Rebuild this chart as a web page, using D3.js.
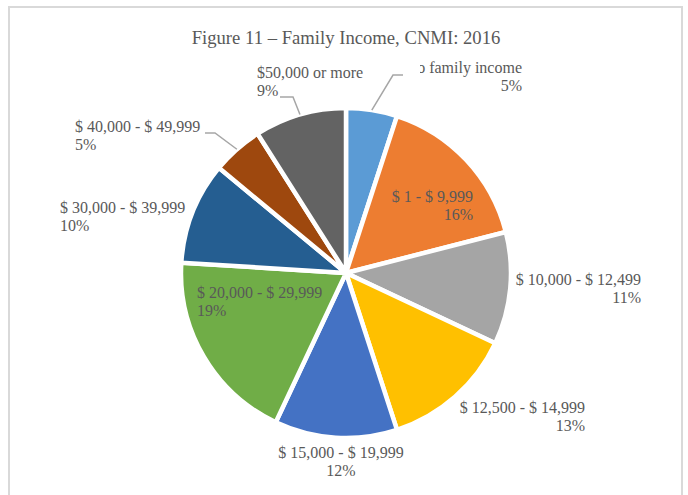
<!DOCTYPE html>
<html>
<head>
<meta charset="utf-8">
<script src="https://cdn.jsdelivr.net/npm/d3@7"></script>
<style>
  body { margin: 0; background: #fff; }
  text { font-family: 'Liberation Serif', 'Times New Roman', serif; fill: #595959; }
</style>
</head>
<body>
<div id="chart"></div>
<script>
const categories = [
  'No family income',
  '$ 1 - $ 9,999',
  '$ 10,000 - $ 12,499',
  '$ 12,500 - $ 14,999',
  '$ 15,000 - $ 19,999',
  '$ 20,000 - $ 29,999',
  '$ 30,000 - $ 39,999',
  '$ 40,000 - $ 49,999',
  '$50,000 or more'
];
const shares = [5, 16, 11, 13, 12, 19, 10, 5, 9];
const colors = ['#5B9BD5', '#ED7D31', '#A5A5A5', '#FFC000', '#4472C4', '#70AD47', '#255E91', '#9E480E', '#636363'];

const width = 688;
const height = 495;
const cx = 346;
const cy = 273;
const radius = 165;

// label placement (text anchor point, alignment, optional leader elbow)
const labelLayout = [
  { x: 522, y: 73, anchor: 'end', elbow: [[393, 75], [403, 75]], clipLeft: 420 },
  { x: 473, y: 202, anchor: 'end' },
  { x: 641, y: 285, anchor: 'end' },
  { x: 585, y: 413, anchor: 'end' },
  { x: 341, y: 458, anchor: 'middle' },
  { x: 197, y: 298, anchor: 'start' },
  { x: 60, y: 213, anchor: 'start' },
  { x: 75, y: 132, anchor: 'start', elbow: [[215, 133], [205, 133]] },
  { x: 257, y: 78, anchor: 'start', elbow: [[293, 97], [280, 97]] }
];

const svg = d3.select('#chart').append('svg')
  .attr('width', width)
  .attr('height', height);

svg.append('rect')
  .attr('x', 9)
  .attr('y', 7)
  .attr('width', 673)
  .attr('height', 520)
  .attr('fill', '#fff')
  .attr('stroke', '#d9d9d9')
  .attr('stroke-width', 2);

svg.append('text')
  .attr('x', cx)
  .attr('y', 44)
  .attr('text-anchor', 'middle')
  .style('font-size', '18.67px')
  .text('Figure 11 \u2013 Family Income, CNMI: 2016');

const pie = d3.pie().sort(null).value(d => d);
const arcs = pie(shares);
const arc = d3.arc().innerRadius(0).outerRadius(radius);

const g = svg.append('g').attr('transform', `translate(${cx}, ${cy})`);

g.selectAll('.slice')
  .data(arcs)
  .enter()
  .append('path')
  .attr('class', 'slice')
  .attr('d', arc)
  .attr('fill', (d, i) => colors[i])
  .attr('stroke', '#fff')
  .attr('stroke-width', 4.5)
  .attr('stroke-linejoin', 'miter');

// leader lines start at the outer edge, at the middle angle of the slice
const lineFn = d3.line().x(d => d[0]).y(d => d[1]);
arcs.forEach((d, i) => {
  const lay = labelLayout[i];
  if (!lay.elbow) return;
  const mid = (d.startAngle + d.endAngle) / 2;
  const start = [cx + radius * Math.sin(mid), cy - radius * Math.cos(mid)];
  svg.append('path')
    .attr('d', lineFn([start].concat(lay.elbow)))
    .attr('fill', 'none')
    .attr('stroke', '#a6a6a6')
    .attr('stroke-width', 1.5);
});

const defs = svg.append('defs');
const total = d3.sum(shares);
arcs.forEach((d, i) => {
  const lay = labelLayout[i];
  const t = svg.append('text')
    .attr('text-anchor', lay.anchor)
    .style('font-size', '16px');
  if (lay.clipLeft) {
    defs.append('clipPath').attr('id', 'clip' + i)
      .append('rect')
      .attr('x', lay.clipLeft)
      .attr('y', 0)
      .attr('width', width)
      .attr('height', height);
    t.attr('clip-path', `url(#clip${i})`);
  }
  t.append('tspan')
    .attr('x', lay.x)
    .attr('y', lay.y)
    .text(categories[i]);
  t.append('tspan')
    .attr('x', lay.x)
    .attr('y', lay.y + 18)
    .text(Math.round(d.data / total * 100) + '%');
});
</script>
</body>
</html>
